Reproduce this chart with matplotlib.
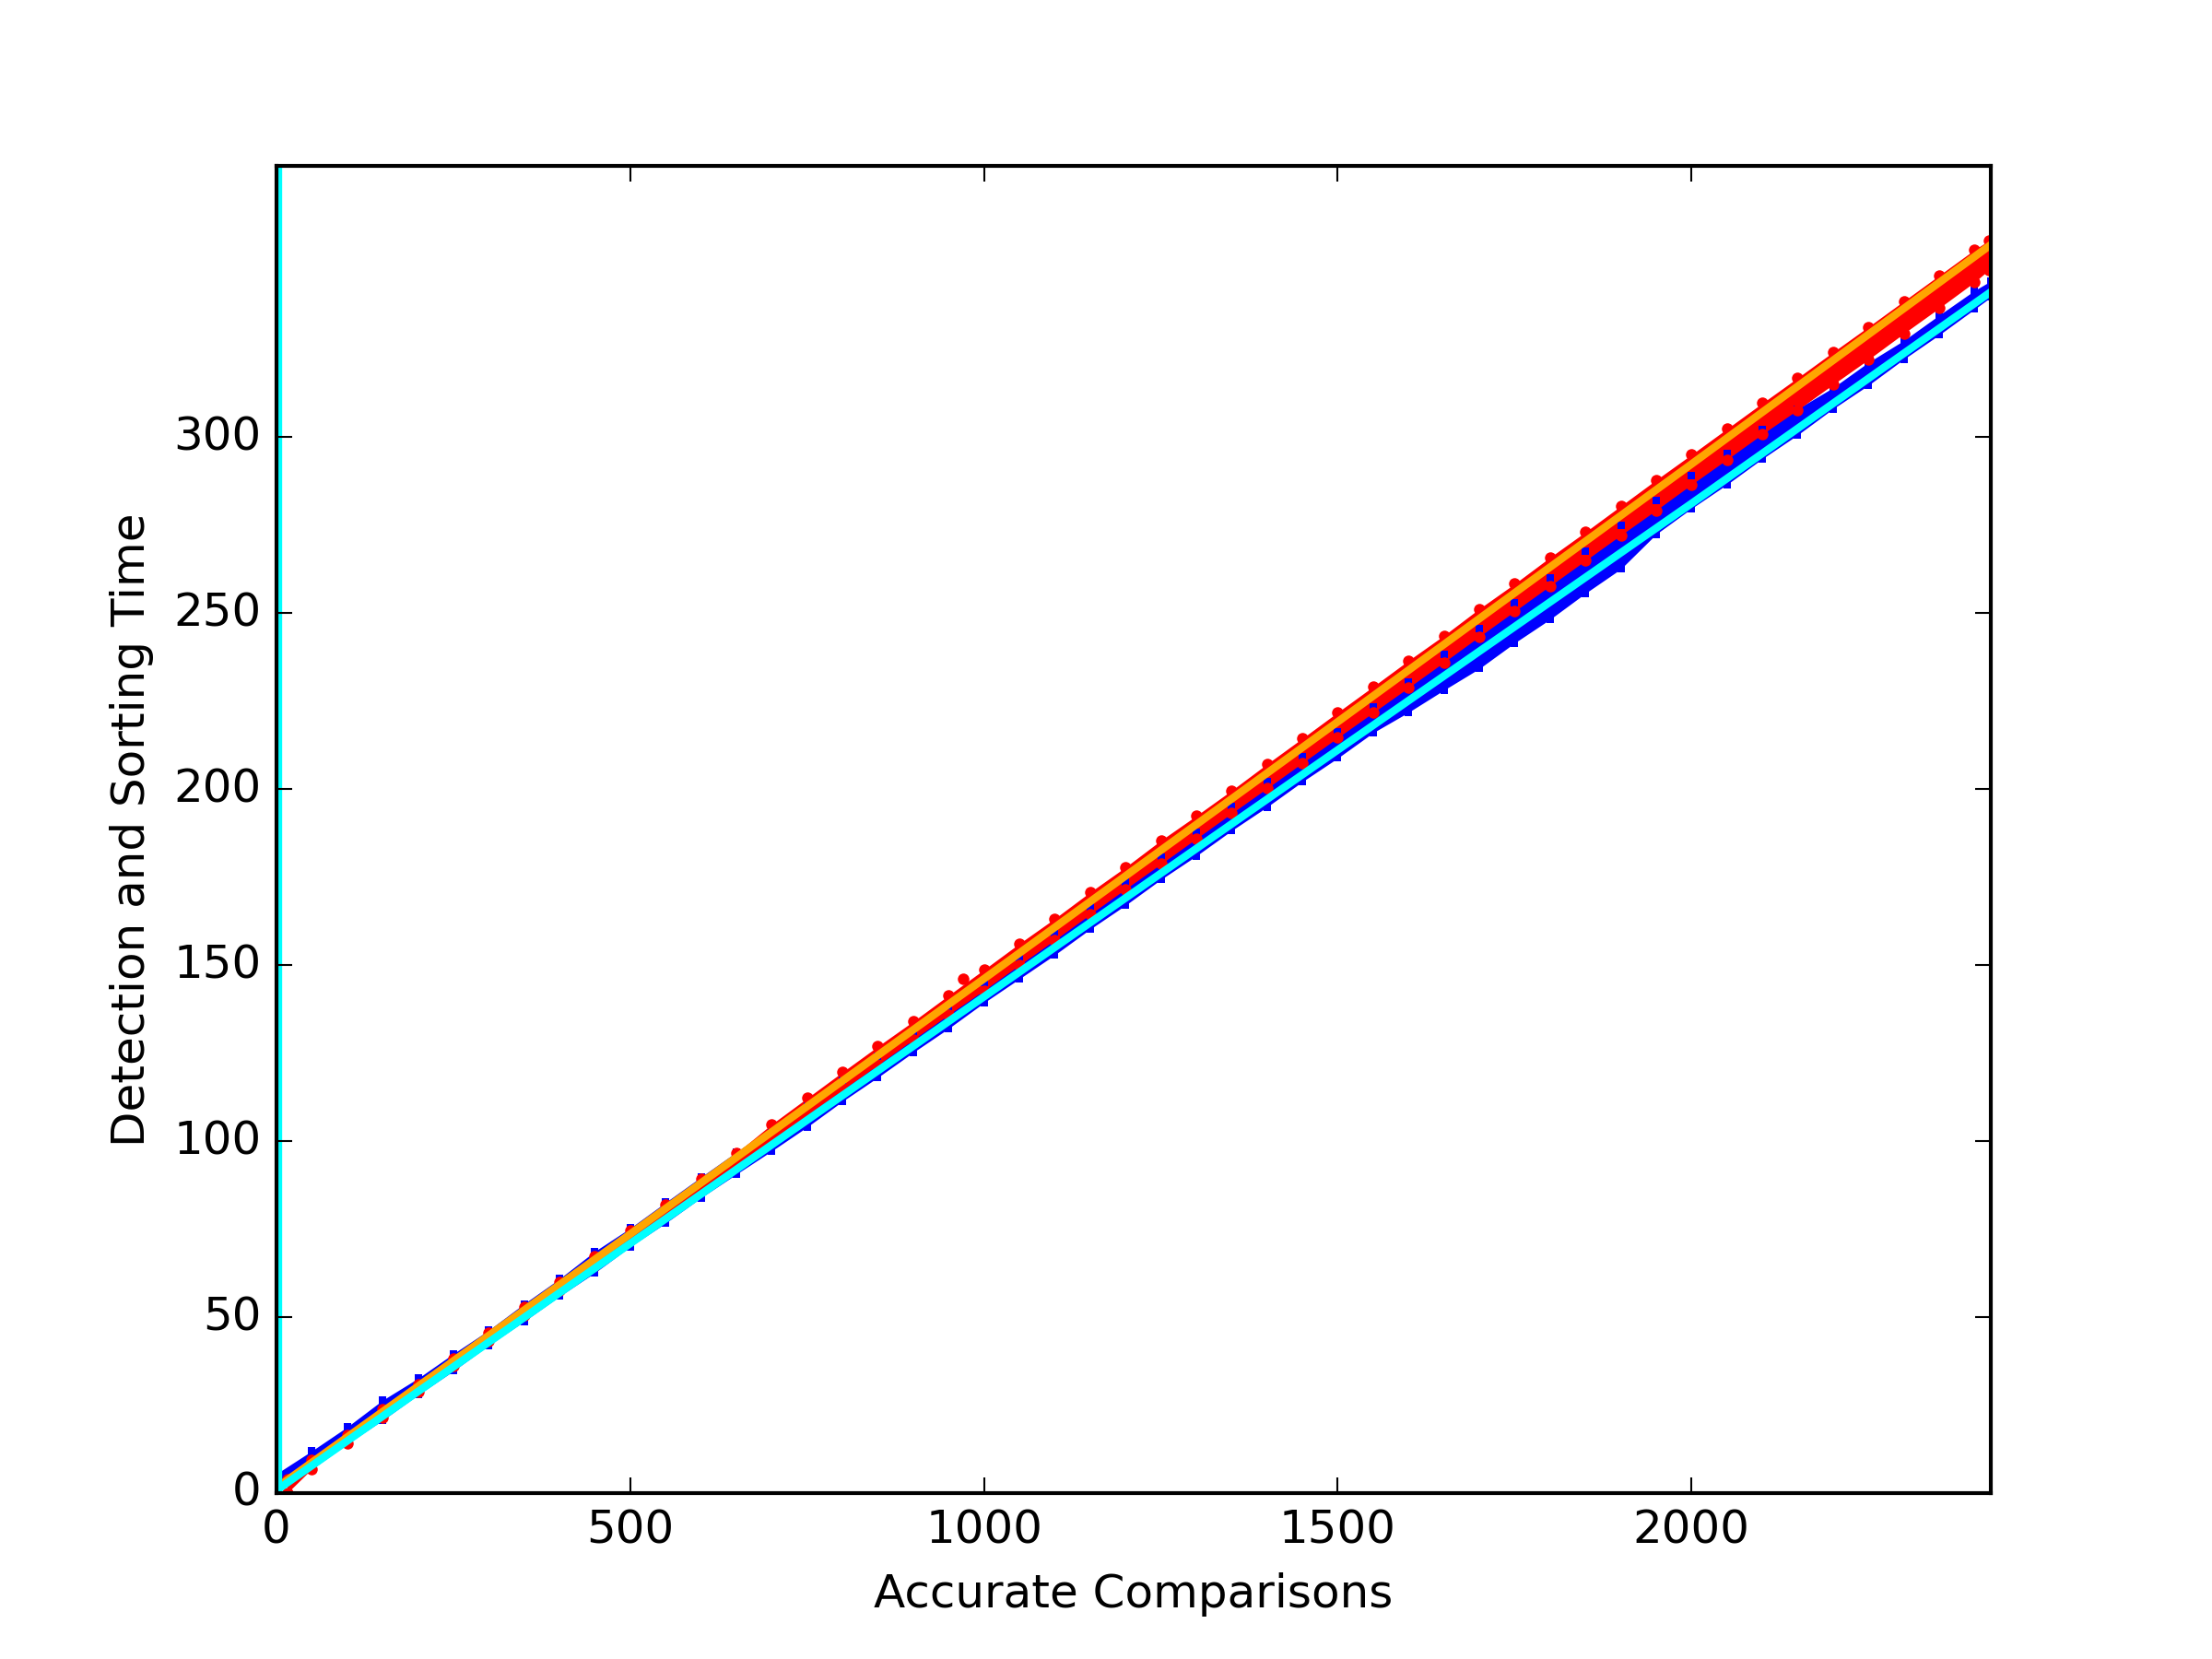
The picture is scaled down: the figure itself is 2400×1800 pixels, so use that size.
import matplotlib
matplotlib.use("Agg")
import matplotlib.pyplot as plt


#Sample positions (accurate comparisons)
sample_x = [0, 50, 100, 150, 200, 250, 300, 350, 400, 450, 500, 550, 600,
            650, 700, 750, 800, 850, 900, 950, 1000, 1050, 1100, 1150, 1200,
            1250, 1300, 1350, 1400, 1450, 1500, 1550, 1600, 1650, 1700, 1750,
            1800, 1850, 1900, 1950, 2000, 2050, 2100, 2150, 2200, 2250, 2300,
            2350, 2400, 2423]

#Blue series, lower and upper edge of the point cloud
blue_low = [0.2, 6.8, 14.0, 20.7, 27.9, 34.7, 42.0, 48.8, 55.9, 62.6, 70.0,
            76.7, 83.9, 90.6, 97.2, 104.0, 111.3, 118.1, 125.2, 132.0, 139.3,
            146.1, 152.9, 160.2, 167.0, 174.3, 181.0, 188.2, 194.9, 202.1,
            208.8, 216.0, 221.8, 228.1, 234.2, 241.5, 248.2, 255.6, 262.5,
            272.4, 279.7, 286.5, 293.8, 300.6, 308.0, 314.7, 322.1, 329.0,
            336.3, 339.7]
blue_high = [5.5, 12.0, 18.8, 26.4, 32.6, 39.6, 46.3, 53.8, 60.9, 68.7, 75.3,
             82.6, 89.8, 96.9, 103.8, 110.4, 117.3, 124.2, 131.0, 138.0, 145.0,
             152.0, 159.2, 166.4, 173.6, 180.7, 187.8, 195.0, 202.0, 209.2,
             216.3, 223.4, 230.5, 238.2, 245.6, 252.9, 260.0, 267.5, 274.8,
             282.0, 289.0, 295.2, 302.0, 308.0, 314.0, 321.2, 327.4, 334.6,
             341.6, 344.3]

#Red series, lower and upper edge of the point cloud
red_x = [15, 50, 100, 150, 200, 250, 300, 350, 400, 450, 500, 550, 600, 650,
         700, 750, 800, 850, 900, 950, 1000, 1050, 1100, 1150, 1200, 1250,
         1300, 1350, 1400, 1450, 1500, 1550, 1600, 1650, 1700, 1750, 1800,
         1850, 1900, 1950, 2000, 2050, 2100, 2150, 2200, 2250, 2300, 2350,
         2400, 2420]
red_low = [0.0, 6.9, 14.2, 21.5, 28.8, 36.0, 43.1, 50.4, 57.6, 64.7, 71.9,
           79.1, 86.3, 93.4, 100.3, 107.4, 114.5, 121.6, 128.8, 135.9, 142.8,
           150.0, 157.1, 164.4, 171.6, 178.7, 185.9, 193.1, 200.2, 207.4,
           214.6, 221.7, 228.8, 236.0, 243.3, 250.5, 257.7, 264.9, 272.1,
           279.2, 286.5, 293.6, 300.8, 307.7, 314.9, 322.0, 329.4, 336.6,
           344.0, 347.4]
red_high = [3.8, 9.4, 16.6, 23.8, 31.0, 38.2, 45.5, 52.8, 60.0, 67.3, 74.5,
            81.9, 89.2, 96.6, 104.8, 112.2, 119.6, 126.9, 134.0, 141.4, 148.7,
            156.1, 163.2, 170.7, 177.8, 185.4, 192.4, 199.6, 207.1, 214.4,
            221.8, 229.1, 236.5, 243.6, 251.2, 258.3, 265.8, 273.0, 280.4,
            287.8, 295.0, 302.3, 309.6, 316.8, 324.1, 331.3, 338.6, 345.9,
            353.2, 355.8]
red_outlier_x = [971]
red_outlier_y = [146.0]

#Fitted lines
fit_x = [0, 500, 1000, 1500, 2000, 2423]
orange_fit = [1.5, 73.6, 146.1, 219.1, 292.3, 354.6]
cyan_fit = [0.8, 70.9, 141.0, 211.1, 281.1, 341.2]
cyan_vline_x = 3

x_max = 2423
y_max = 377
y_ticks = [0, 50, 100, 150, 200, 250, 300]


def draw_cloud(ax, x, low, high, color, marker, size):
    ax.fill_between(x, low, high, color=color, linewidth=0)
    ax.plot(x, low, linestyle="none", marker=marker, markersize=size,
            color=color, markeredgewidth=0)
    ax.plot(x, high, linestyle="none", marker=marker, markersize=size,
            color=color, markeredgewidth=0)


def main():
    plt.style.use("classic")
    fig = plt.figure(figsize=(8, 6), facecolor="white")
    ax = fig.add_subplot(111)

    draw_cloud(ax, sample_x, blue_low, blue_high, "blue", "s", 2.0)
    draw_cloud(ax, red_x, red_low, red_high, "red", "o", 3.0)
    ax.plot(red_outlier_x, red_outlier_y, linestyle="none", marker="o",
            markersize=3.0, color="red", markeredgewidth=0)

    ax.plot(fit_x, orange_fit, color="orange", linewidth=2)
    ax.plot(fit_x, cyan_fit, color="cyan", linewidth=2)
    ax.axvline(cyan_vline_x, color="cyan", linewidth=2)

    ax.set_xlim(0, x_max)
    ax.set_ylim(0, y_max)
    ax.set_yticks(y_ticks)
    ax.set_xlabel("Accurate Comparisons")
    ax.set_ylabel("Detection and Sorting Time")

    fig.savefig("out.png", dpi=300, facecolor="white")


if __name__ == "__main__":
    main()
